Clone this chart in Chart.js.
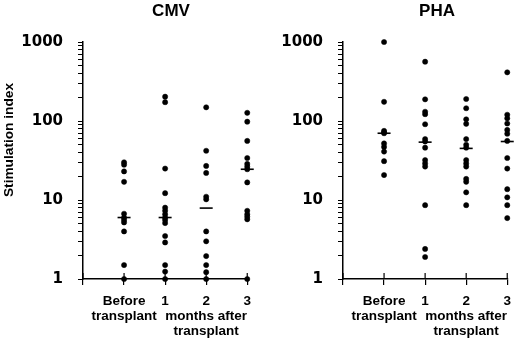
<!DOCTYPE html>
<html>
<head>
<meta charset="utf-8">
<script src="https://cdn.jsdelivr.net/npm/chart.js@4/dist/chart.umd.min.js"></script>
<style>
  html, body { margin: 0; padding: 0; background: #fff; }
  .panel { position: absolute; top: 0; width: 260px; height: 341px; }
</style>
</head>
<body>
<div class="panel" style="left:0"><canvas id="cmv" width="260" height="341"></canvas></div>
<div class="panel" style="left:260px"><canvas id="pha" width="260" height="341"></canvas></div>
<script>
const FONT = '"Liberation Sans", Arial, sans-serif';
const TICK_FONT = '"DejaVu Sans", Arial, sans-serif';

// Etiquetas de ejes
const xLabels = [['Before', 'transplant'], '1', ['2', 'months after', 'transplant'], '3'];
const yLabels = [1, 10, 100, 1000];

// CMV: índice de estimulación por grupo
const cmvBefore = [30, 28, 23, 17, 6.7, 6.0, 5.6, 5.2, 4.0, 1.5, 1];
const cmvMonth1 = [203, 173, 25, 12.2, 8.0, 7.3, 6.6, 6.0, 5.6, 5.1, 3.5, 2.9, 1.5, 1.24, 1];
const cmvMonth2 = [149, 42, 27, 22, 11, 10.2, 4.0, 3.0, 1.95, 1.5, 1.22, 1];
const cmvMonth3 = [127, 98, 56, 34, 28.6, 26.4, 24.5, 16.7, 7.3, 6.6, 6.15, 5.7, 1];
const cmvMedians = [6.0, 6.0, 7.9, 24.5];

// PHA
const phaBefore = [1000, 175, 75, 72, 70, 52, 47, 41, 31, 20.7];
const phaMonth1 = [563, 188, 131, 122, 91, 59, 55, 46, 32, 29, 26.5, 8.6, 2.4, 1.9];
const phaMonth2 = [190, 145, 105, 92, 59, 50, 46, 32, 29, 26.5, 18.5, 17, 12.5, 8.6];
const phaMonth3 = [413, 120, 108, 93, 77, 69, 56, 34, 25, 13.7, 10.8, 8.6, 5.9];
const phaMedians = [70, 54, 45, 55];

// marcas del eje x que cruzan la línea
const crossTicks = {
    id: 'crossTicks',
    beforeDatasetsDraw(chart) {
        const sx = chart.scales.x, ctx = chart.ctx, yb = chart.chartArea.bottom;
        ctx.save();
        ctx.strokeStyle = '#000'; ctx.lineWidth = 1.2;
        sx.ticks.forEach(t => {
            const px = sx.getPixelForValue(t.value);
            ctx.beginPath(); ctx.moveTo(px, yb - 6); ctx.lineTo(px, yb); ctx.stroke();
        });
        ctx.restore();
    }
};

// título del panel y título vertical
const panelText = {
    id: 'panelText',
    afterDraw(chart, args, opts) {
        const ctx = chart.ctx;
        ctx.save();
        ctx.fillStyle = '#000'; ctx.textAlign = 'center'; ctx.textBaseline = 'middle';
        ctx.font = 'bold 17px ' + FONT;
        ctx.fillText(opts.title, opts.titleX, 11);
        if (opts.yTitle) {
            ctx.translate(9, 140);
            ctx.rotate(-Math.PI / 2);
            ctx.font = 'bold 13.7px ' + FONT;
            ctx.fillText(opts.yTitle, 0, 0);
        }
        ctx.restore();
    }
};

function panel(id, title, titleX, series, medians, yTitle, padRight) {
    const datasets = series.map((vals, i) => ({
        type: 'scatter',
        data: vals.map(v => ({ x: i + 1, y: v })),
        pointRadius: 2.6, pointBackgroundColor: '#000', pointBorderColor: '#000', pointBorderWidth: 0.5,
        clip: false
    }));
    datasets.push({
        type: 'scatter',
        data: medians.map((v, i) => ({ x: i + 1, y: v })),
        pointStyle: 'line', pointRadius: 6.5, pointBorderColor: '#000', pointBorderWidth: 1.6,
        clip: false
    });

    new Chart(document.getElementById(id), {
        type: 'scatter',
        data: { datasets },
        options: {
            responsive: false, animation: false, devicePixelRatio: 1,
            layout: { padding: { top: 42, right: padRight, left: 0, bottom: 0 } },
            plugins: {
                legend: { display: false }, tooltip: { enabled: false },
                panelText: { title, titleX, yTitle }
            },
            scales: {
                x: {
                    type: 'linear', min: 0, max: 4,
                    afterBuildTicks: s => { s.ticks = [0, 1, 2, 3, 4].map(v => ({ value: v })); },
                    afterFit: s => { s.height = 62; },
                    ticks: {
                        autoSkip: false, maxRotation: 0, padding: 9, color: '#000',
                        font: { family: FONT, size: 13.5, weight: 'bold', lineHeight: 1.1 },
                        callback: v => v === 0 ? '' : xLabels[v - 1]
                    },
                    grid: { drawOnChartArea: false, tickLength: 6, color: '#000', lineWidth: 1.2 },
                    border: { color: '#000', width: 1.5 }
                },
                y: {
                    type: 'logarithmic', min: 1, max: 1000,
                    afterBuildTicks: s => {
                        s.ticks = s.ticks.filter(t => {
                            const m = t.value / Math.pow(10, Math.floor(Math.log10(t.value) + 1e-9));
                            return Math.abs(m - Math.round(m)) < 1e-6;
                        });
                    },
                    afterFit: s => { s.width = 83; },
                    ticks: {
                        autoSkip: false, padding: 15, color: '#000',
                        font: { family: TICK_FONT, size: 15, weight: 'bold' },
                        callback: v => yLabels.includes(v) ? String(v) : ''
                    },
                    grid: { drawOnChartArea: false, tickLength: 5, color: '#000', lineWidth: 1 },
                    border: { color: '#000', width: 1.5 }
                }
            }
        },
        plugins: [crossTicks, panelText]
    });
}

panel('cmv', 'CMV', 171, [cmvBefore, cmvMonth1, cmvMonth2, cmvMonth3], cmvMedians, 'Stimulation index', 10);
panel('pha', 'PHA', 177, [phaBefore, phaMonth1, phaMonth2, phaMonth3], phaMedians, null, 8);
</script>
</body>
</html>
